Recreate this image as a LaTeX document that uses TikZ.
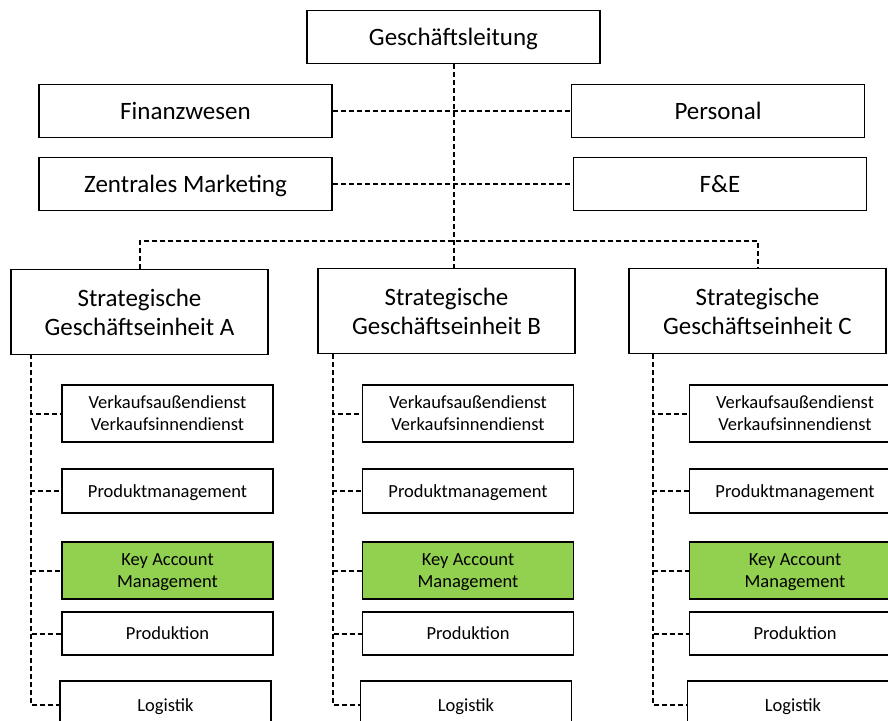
\documentclass[tikz,border=0pt]{standalone}
\usepackage{fontspec}
\setmainfont{Carlito}
\usepackage{tikz}
\usepackage{xcolor}
\usetikzlibrary{positioning}
\definecolor{kamgreen}{RGB}{146,208,80}
\tikzset{
    unit/.style={rectangle, draw=black, line width=1.6pt, fill=white, inner sep=0pt, text depth=0pt, align=center, font=\fontsize{25}{29}\selectfont},
    top/.style={unit, minimum width=293pt, minimum height=53pt},
    sge/.style={unit, minimum width=257pt, minimum height=85pt},
    dept/.style={unit, minimum width=211pt, font=\fontsize{18.5}{22}\selectfont},
    kam/.style={dept, fill=kamgreen},
    link/.style={draw=black, line width=2pt, dash pattern=on 5pt off 3pt}
}

\begin{document}
\begin{tikzpicture}[x=1pt, y=-1pt]
            \useasboundingbox (0, 0) rectangle (888, 720);

            \node[top] (gl) at (453.5, 37) {Geschäftsleitung};
            \node[top] (fin) at (185.5, 111) {Finanzwesen};
            \node[top] (pers) at (718, 111) {Personal};
            \node[top] (zm) at (185.5, 184) {Zentrales Marketing};
            \node[top] (fe) at (720, 184) {F\&E};

            \node[sge] (sgeA) at (139.5, 312) {Strategische\\Geschäftseinheit A};
            \node[sge] (sgeB) at (446.5, 311) {Strategische\\Geschäftseinheit B};
            \node[sge] (sgeC) at (757.5, 311) {Strategische\\Geschäftseinheit C};

            \node[dept, minimum height=57pt] (aV) at (167.5, 413.5) {Verkaufsaußendienst\\Verkaufsinnendienst};
            \node[dept, minimum height=44pt] (aP) at (167.5, 491) {Produktmanagement};
            \node[kam, minimum height=57pt] (aK) at (167.5, 570.5) {Key Account\\Management};
            \node[dept, minimum height=43pt] (aR) at (167.5, 633.5) {Produktion};
            \node[dept, minimum height=48pt] (aL) at (165.5, 705) {Logistik};

            \node[dept, minimum height=57pt] (bV) at (468, 413.5) {Verkaufsaußendienst\\Verkaufsinnendienst};
            \node[dept, minimum height=44pt] (bP) at (468, 491) {Produktmanagement};
            \node[kam, minimum height=57pt] (bK) at (468, 570.5) {Key Account\\Management};
            \node[dept, minimum height=43pt] (bR) at (468, 633.5) {Produktion};
            \node[dept, minimum height=48pt] (bL) at (466, 705) {Logistik};

            \node[dept, minimum height=57pt] (cV) at (795, 413.5) {Verkaufsaußendienst\\Verkaufsinnendienst};
            \node[dept, minimum height=44pt] (cP) at (795, 491) {Produktmanagement};
            \node[kam, minimum height=57pt] (cK) at (795, 570.5) {Key Account\\Management};
            \node[dept, minimum height=43pt] (cR) at (795, 633.5) {Produktion};
            \node[dept, minimum height=48pt] (cL) at (793, 705) {Logistik};

            \coordinate (bus) at (453, 241);
            \coordinate (a0) at (31, 354);
            \coordinate (b0) at (333, 354);
            \coordinate (c0) at (653, 354);

            \draw[link] (gl) -- (gl |- sgeB.north);
            \draw[link] (fin) -- (pers);
            \draw[link] (zm) -- (fe);
            \draw[link] (sgeA.north) |- (bus) -| (sgeC.north);

            \draw[link] (a0) |- (aV.west);
            \draw[link] (a0) |- (aP.west);
            \draw[link] (a0) |- (aK.west);
            \draw[link] (a0) |- (aR.west);
            \draw[link] (a0) |- (aL.west);

            \draw[link] (b0) |- (bV.west);
            \draw[link] (b0) |- (bP.west);
            \draw[link] (b0) |- (bK.west);
            \draw[link] (b0) |- (bR.west);
            \draw[link] (b0) |- (bL.west);

            \draw[link] (c0) |- (cV.west);
            \draw[link] (c0) |- (cP.west);
            \draw[link] (c0) |- (cK.west);
            \draw[link] (c0) |- (cR.west);
            \draw[link] (c0) |- (cL.west);
        \end{tikzpicture}
\end{document}
